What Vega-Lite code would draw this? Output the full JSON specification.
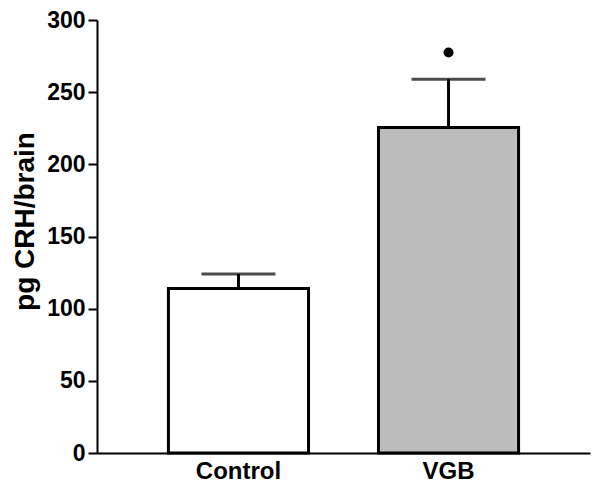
{
  "$schema": "https://vega.github.io/schema/vega-lite/v6.json",
  "autosize": "none",
  "width": 493,
  "height": 433,
  "padding": {"left": 97, "top": 20, "right": 10, "bottom": 35},
  "background": "white",
  "data": {"values": [
    {"group": "Control", "value": 114, "upper": 124, "sig": null},
    {"group": "VGB", "value": 225.5, "upper": 259, "sig": 277.5}
  ]},
  "encoding": {
    "x": {"field": "group", "type": "nominal", "sort": ["Control", "VGB"],
      "scale": {"paddingInner": 0.333, "paddingOuter": 0.34},
      "axis": {"title": null, "labelAngle": 0, "ticks": false, "labelPadding": 6}}
  },
  "layer": [
    {"mark": {"type": "bar", "stroke": "black", "strokeWidth": 3},
     "encoding": {
       "y": {"field": "value", "type": "quantitative",
         "scale": {"domain": [0, 300]},
         "axis": {"title": "pg CRH/brain", "values": [0, 50, 100, 150, 200, 250, 300], "grid": false,
           "titleX": -72, "titleY": 201, "titleBaseline": "middle", "titleAlign": "center", "titleAngle": -90,
           "tickSize": 9, "labelPadding": 3}},
       "fill": {"field": "group", "type": "nominal", "legend": null,
         "scale": {"domain": ["Control", "VGB"], "range": ["white", "#bcbcbc"]}}}},
    {"mark": {"type": "rule", "color": "black", "strokeWidth": 3},
     "encoding": {"y": {"field": "value", "type": "quantitative"}, "y2": {"field": "upper"}}},
    {"mark": {"type": "tick", "color": "black", "thickness": 3, "size": 74, "orient": "horizontal"},
     "encoding": {"y": {"field": "upper", "type": "quantitative"}}},
    {"transform": [{"filter": "datum.sig != null"}],
     "mark": {"type": "point", "filled": true, "color": "black", "size": 100, "opacity": 1},
     "encoding": {"y": {"field": "sig", "type": "quantitative"}}}
  ],
  "config": {
    "view": {"stroke": null},
    "axis": {
      "labelFont": "Liberation Sans", "labelFontWeight": "bold", "labelColor": "black",
      "titleFont": "Liberation Sans", "titleFontWeight": "bold", "titleFontSize": 28, "titleColor": "black",
      "tickColor": "black", "tickWidth": 2, "domainColor": "black", "domainWidth": 2
    },
    "axisX": {"labelFontSize": 24},
    "axisY": {"labelFontSize": 23}
  }
}
